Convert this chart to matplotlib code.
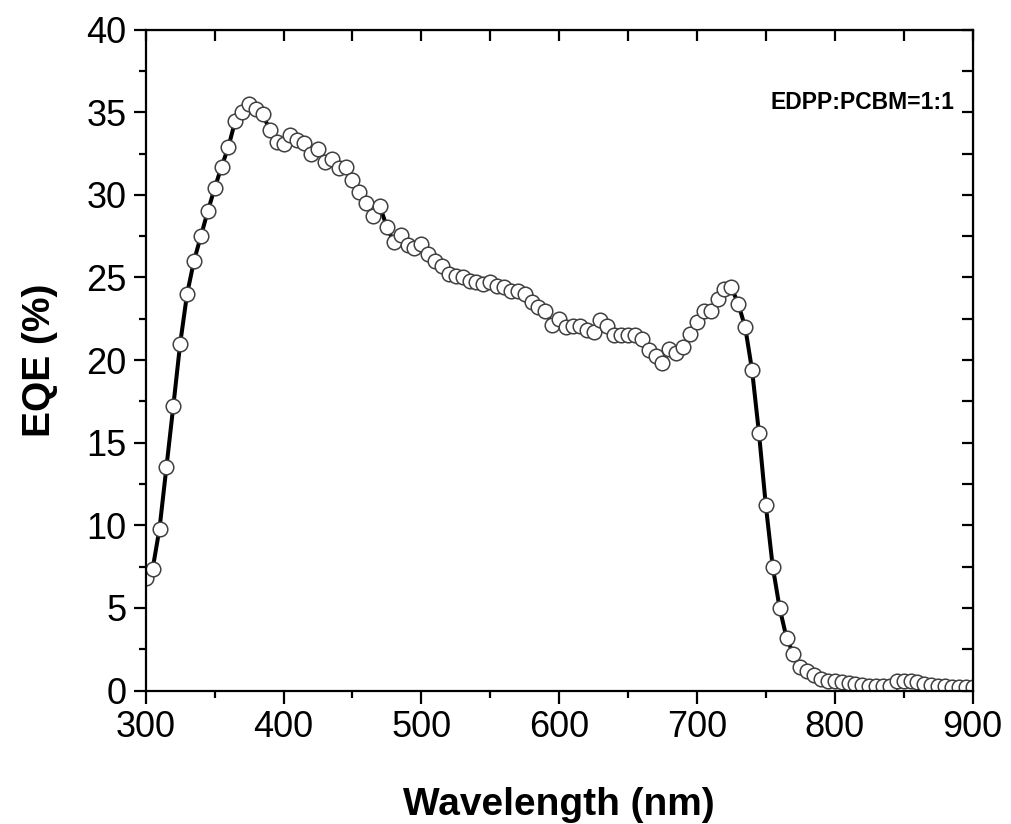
import matplotlib
matplotlib.use("Agg")
import matplotlib.pyplot as plt
from matplotlib.ticker import MultipleLocator

plt.rcParams['font.family'] = ['Liberation Sans', 'DejaVu Sans']

# wavelength grid (nm), 5 nm steps from 300 to 900
wavelength = list(range(300, 905, 5))

eqe = [
    6.8, 7.35, 9.8, 13.5, 17.2, 21.0, 24.0, 26.0, 27.5, 29.0,      # 300-345
    30.4, 31.7, 32.9, 34.5, 35.0, 35.5, 35.2, 34.9, 33.9, 33.2,    # 350-395
    33.1, 33.6, 33.3, 33.15, 32.5, 32.75, 32.0, 32.2, 31.6, 31.7,  # 400-445
    30.9, 30.2, 29.5, 28.7, 29.3, 28.05, 27.15, 27.55, 26.95, 26.8,  # 450-495
    27.05, 26.45, 26.0, 25.7, 25.2, 25.1, 25.0, 24.8, 24.7, 24.6,  # 500-545
    24.7, 24.5, 24.4, 24.2, 24.2, 24.0, 23.5, 23.2, 23.0, 22.15,   # 550-595
    22.5, 22.0, 22.05, 22.05, 21.8, 21.7, 22.4, 22.05, 21.5, 21.5,  # 600-645
    21.5, 21.5, 21.3, 20.6, 20.25, 19.8, 20.65, 20.4, 20.8, 21.6,  # 650-695
    22.3, 23.0, 23.0, 23.7, 24.3, 24.4, 23.4, 22.0, 19.4, 15.6,    # 700-745
    11.2, 7.5, 5.0, 3.2, 2.2, 1.45, 1.2, 0.95, 0.7, 0.55,          # 750-795
    0.55, 0.5, 0.45, 0.4, 0.35, 0.3, 0.3, 0.3, 0.3, 0.55,          # 800-845
    0.6, 0.6, 0.5, 0.4, 0.35, 0.3, 0.25, 0.2, 0.2, 0.2,            # 850-895
    0.2,                                                           # 900
]

label_text = "EDPP:PCBM=1:1"

fig = plt.figure(figsize=(10.12, 8.24), dpi=100)
ax = fig.add_axes([0.144, 0.162, 0.817, 0.802])

ax.plot(wavelength, eqe, color='black', lw=2.9, marker='o', markersize=10.5,
        markerfacecolor='white', markeredgecolor='#404040', markeredgewidth=1.1)

ax.set_xlim(300, 900)
ax.set_ylim(0, 40)
ax.xaxis.set_major_locator(MultipleLocator(100))
ax.xaxis.set_minor_locator(MultipleLocator(50))
ax.yaxis.set_major_locator(MultipleLocator(5))
ax.yaxis.set_minor_locator(MultipleLocator(2.5))

for s in ax.spines.values():
    s.set_linewidth(1.6)

ax.tick_params(which='major', direction='out', length=9, width=1.6, labelsize=26, pad=5)
ax.tick_params(which='minor', direction='out', length=5, width=1.6)
# mirrored ticks on the top/right spines, pointing in
ax2 = ax.secondary_xaxis('top')
ax2.xaxis.set_major_locator(MultipleLocator(100))
ax2.xaxis.set_minor_locator(MultipleLocator(50))
ax2.tick_params(which='both', direction='in', length=8, width=1.6, labeltop=False)
ax3 = ax.secondary_yaxis('right')
ax3.yaxis.set_major_locator(MultipleLocator(5))
ax3.yaxis.set_minor_locator(MultipleLocator(2.5))
ax3.tick_params(which='both', direction='in', length=8, width=1.6, labelright=False)

ax.set_xlabel("Wavelength (nm)", fontsize=28, fontweight='bold', labelpad=30)
ax.set_ylabel("EQE (%)", fontsize=28, fontweight='bold', labelpad=20)
ax.text(0.978, 0.89, label_text, transform=ax.transAxes, ha='right', va='center',
        fontsize=16.5, fontweight='bold')

fig.savefig("out.png", dpi=100)
